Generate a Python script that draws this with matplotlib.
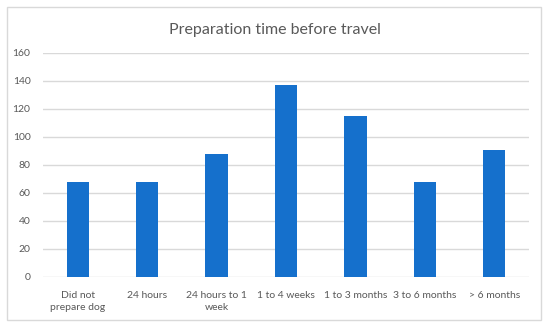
import matplotlib
matplotlib.use("Agg")
import matplotlib.pyplot as plt
from matplotlib.patches import Rectangle

categories = ["Did not\nprepare dog", "24 hours", "24 hours to 1\nweek", "1 to 4 weeks",
              "1 to 3 months", "3 to 6 months", "> 6 months"]
values = [68, 68, 88, 137, 115, 68, 91]
yticks = [0, 20, 40, 60, 80, 100, 120, 140, 160]
title = "Preparation time before travel"

plt.rcParams['font.family'] = ['Lato', 'DejaVu Sans']
text_color = "#595959"
grid_color = "#D9D9D9"
bar_color = "#1570CC"

fig = plt.figure(figsize=(5.5, 3.25), dpi=100)
fig.patches.append(Rectangle((7/550, 1-320/325), (541-7)/550, (320-7)/325,
                             transform=fig.transFigure, fill=False,
                             edgecolor=grid_color, linewidth=1))
ax = fig.add_axes([43/550, 1-277/325, (529-43)/550, (277-53)/325])
x = list(range(len(categories)))
ax.bar(x, values, width=0.32, color=bar_color, zorder=3)
ax.set_xlim(-0.5, len(categories)-0.5)
ax.set_ylim(0, 160)
ax.set_yticks(yticks)
ax.set_yticklabels([str(t) for t in yticks])
ax.set_xticks(x)
ax.set_xticklabels(categories, linespacing=1.45)
ax.grid(axis='y', color=grid_color, linewidth=1, zorder=0)
for s in ax.spines.values():
    s.set_visible(False)
ax.tick_params(axis='both', length=0, colors=text_color, labelsize=7.5)
ax.tick_params(axis='y', pad=9)
ax.tick_params(axis='x', pad=10)
fig.text(0.5, 1-30/325, title, ha='center', va='center', fontsize=11.5, color=text_color)
fig.savefig("out.png", dpi=100)
